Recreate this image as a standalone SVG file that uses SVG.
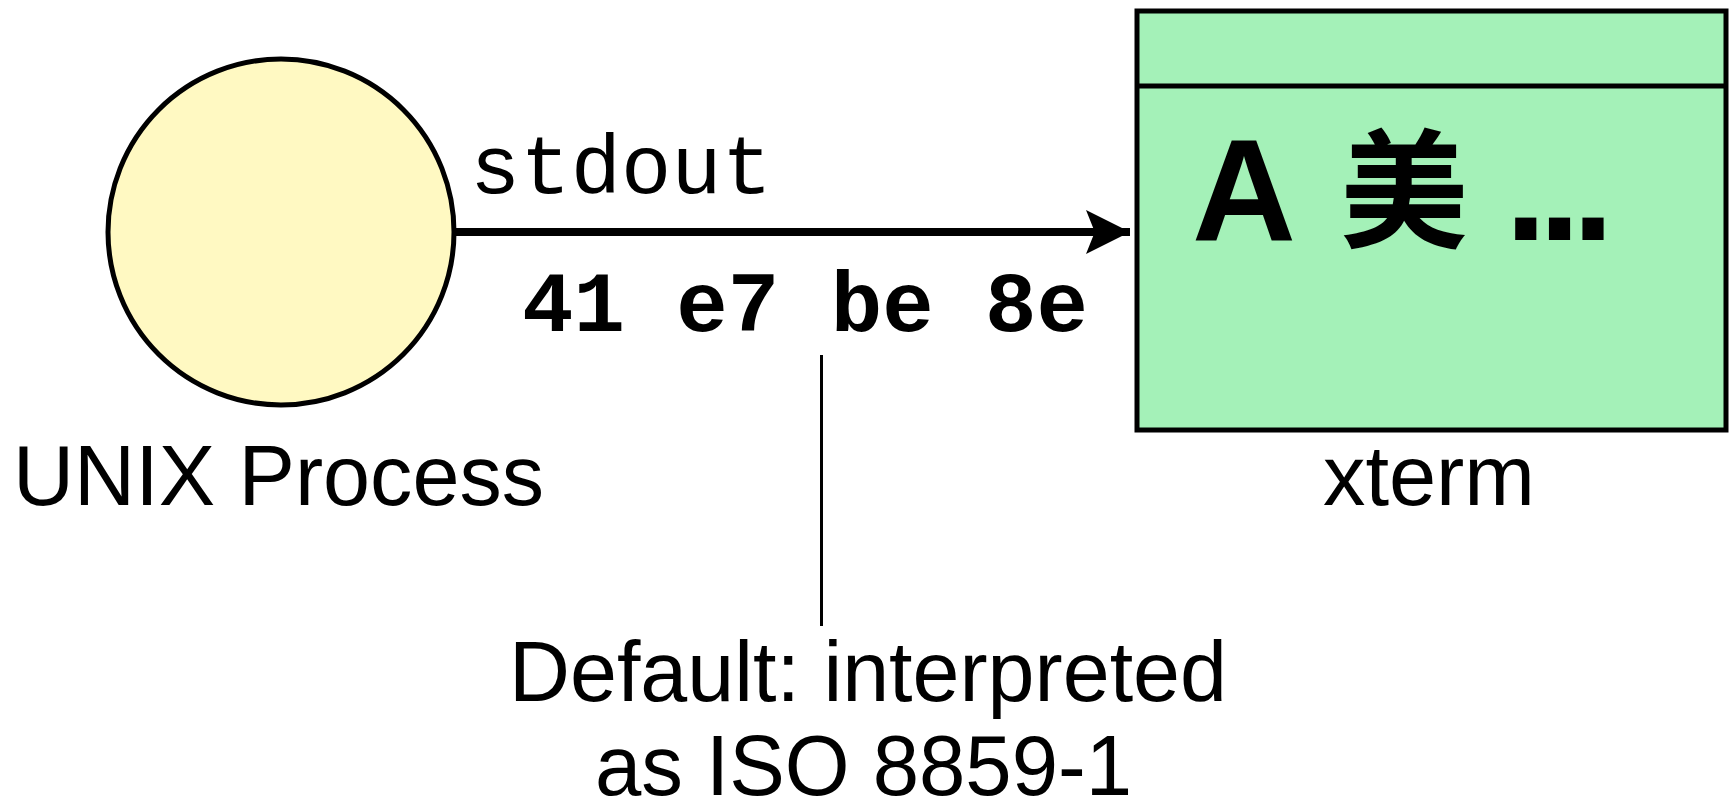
<svg xmlns="http://www.w3.org/2000/svg" width="1729" height="803" viewBox="0 0 1729 803">
<defs>
<style>
.sans{font-family:"Liberation Sans",Arial,Helvetica,sans-serif;fill:#000}
.mono{font-family:"Liberation Mono","Courier New",monospace;fill:#000}
.lbl{font-size:86px}
</style>
<marker id="arr" viewBox="0 0 10 10" refX="10" refY="5" markerWidth="5.5" markerHeight="5.5" markerUnits="strokeWidth" orient="auto">
<path d="M0,0 L10,5 L0,10 L2,5 Z" fill="#000"/>
</marker>
</defs>
<rect width="1729" height="803" fill="#fff"/>
<g id="process">
<circle cx="281" cy="232" r="173" fill="#FFF9C2" stroke="#000" stroke-width="5"/>
<text class="sans lbl" x="13" y="505" textLength="531" lengthAdjust="spacingAndGlyphs">UNIX Process</text>
</g>
<g id="xterm">
<rect x="1137" y="11" width="589" height="419" fill="#A4F1B8" stroke="#000" stroke-width="5"/>
<line x1="1137" y1="86" x2="1726" y2="86" stroke="#000" stroke-width="5"/>
<text class="sans" x="1192" y="240" font-size="144" font-weight="bold">A</text>
<text x="1340" y="238" font-size="128" font-weight="bold" font-family="'Noto Sans CJK SC','Noto Sans CJK JP',sans-serif">美</text>
<text class="sans" x="1505" y="240" font-size="150" font-weight="bold" letter-spacing="-8">...</text>
<text class="sans lbl" x="1323" y="505" textLength="212" lengthAdjust="spacingAndGlyphs">xterm</text>
</g>
<g id="note">
<text class="sans lbl" x="509" y="701" textLength="718" lengthAdjust="spacingAndGlyphs">Default: interpreted</text>
<text class="sans lbl" x="595" y="795" textLength="537" lengthAdjust="spacingAndGlyphs">as ISO 8859-1</text>
</g>
<g id="connectors">
<line x1="456" y1="232" x2="1130" y2="232" stroke="#000" stroke-width="8" marker-end="url(#arr)"/>
<text class="mono" x="470" y="193" font-size="84" textLength="302" lengthAdjust="spacingAndGlyphs">stdout</text>
<text class="mono" x="522" y="331" font-size="86" font-weight="bold" textLength="566" lengthAdjust="spacingAndGlyphs">41 e7 be 8e</text>
<line x1="821.5" y1="355" x2="821.5" y2="626" stroke="#000" stroke-width="3"/>
</g>
</svg>
